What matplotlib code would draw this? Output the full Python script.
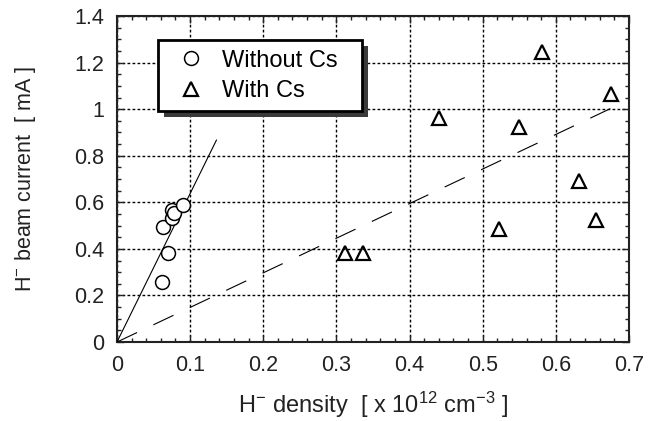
import matplotlib
matplotlib.use("Agg")
import matplotlib.pyplot as plt
from matplotlib.patches import Rectangle
from matplotlib.ticker import MultipleLocator

plt.rcParams["font.family"] = ["Liberation Sans", "DejaVu Sans"]
plt.rcParams["mathtext.fontset"] = "custom"
plt.rcParams["mathtext.rm"] = "Liberation Sans"
plt.rcParams["mathtext.it"] = "Liberation Sans"
plt.rcParams["mathtext.bf"] = "Liberation Sans:bold"
plt.rcParams["lines.scale_dashes"] = False

# H- density [x 1e12 cm^-3] vs H- beam current [mA]
without_cs_x = [0.061, 0.070, 0.0634, 0.0748, 0.0748, 0.078, 0.0907]
without_cs_y = [0.259, 0.381, 0.492, 0.531, 0.567, 0.556, 0.588]
with_cs_x = [0.312, 0.336, 0.441, 0.523, 0.550, 0.581, 0.632, 0.655, 0.676]
with_cs_y = [0.382, 0.382, 0.960, 0.487, 0.922, 1.246, 0.691, 0.524, 1.063]

# guide lines through the origin
fit_without_x = [0.0, 0.136]
fit_without_y = [0.0, 0.867]
fit_with_x = [0.0, 0.692]
fit_with_y = [0.0, 1.028]

x_ticks = [0, 0.1, 0.2, 0.3, 0.4, 0.5, 0.6, 0.7]
x_tick_labels = ["0", "0.1", "0.2", "0.3", "0.4", "0.5", "0.6", "0.7"]
y_ticks = [0, 0.2, 0.4, 0.6, 0.8, 1.0, 1.2, 1.4]
y_tick_labels = ["0", "0.2", "0.4", "0.6", "0.8", "1", "1.2", "1.4"]

fig = plt.figure(figsize=(6.62, 4.21), dpi=100)
ax = fig.add_axes([0.1767, 0.1876, 0.7733, 0.7744])

ax.plot(fit_without_x, fit_without_y, color="black", linewidth=0.8, zorder=3)
ax.plot(fit_with_x, fit_with_y, color="black", linewidth=0.8, dashes=(16, 13), zorder=3)
ax.plot(without_cs_x, without_cs_y, linestyle="none", marker="o", markersize=10,
        markerfacecolor="white", markeredgecolor="black", markeredgewidth=1.1,
        label="Without Cs", zorder=4)
ax.plot(with_cs_x, with_cs_y, linestyle="none", marker="^", markersize=10,
        markerfacecolor="none", markeredgecolor="black", markeredgewidth=1.6,
        label="With Cs", zorder=4)

ax.set_xlim(0, 0.7)
ax.set_ylim(0, 1.4)
ax.set_xticks(x_ticks, x_tick_labels)
ax.set_yticks(y_ticks, y_tick_labels)
ax.xaxis.set_minor_locator(MultipleLocator(0.02))
ax.yaxis.set_minor_locator(MultipleLocator(0.05))
ax.tick_params(which="both", direction="in", top=True, right=True, colors="#222",
               labelsize=15.5, width=1.0)
ax.tick_params(which="major", length=5)
ax.tick_params(which="minor", length=3)
ax.tick_params(axis="x", pad=9)
ax.tick_params(axis="y", pad=9)
for spine in ax.spines.values():
    spine.set_linewidth(1.5)
    spine.set_color("#222")
ax.grid(True, which="major", color="black", linewidth=1.0, dashes=(2, 1.6))

ax.set_xlabel(r"H$^{-}$ density  [ x 10$^{12}$ cm$^{-3}$ ]", fontsize=17, color="#222", labelpad=10)
ax.set_ylabel(r"H$^{-}$ beam current  [ mA ]", fontsize=15.5, color="#222", labelpad=26)

leg = ax.legend(loc="upper left", bbox_to_anchor=(0.080, 0.826, 0.398, 0.1), mode="expand",
                fontsize=17, frameon=True, fancybox=False, edgecolor="black", framealpha=1,
                borderpad=0.4, handlelength=2.0, handletextpad=0.3, labelspacing=0.35,
                borderaxespad=0)
leg.get_frame().set_linewidth(2.0)
leg.set_zorder(6)

# drop shadow under the legend box
fig.canvas.draw()
bb = leg.get_window_extent().transformed(ax.transAxes.inverted())
dx = 6 / ax.bbox.width
dy = 6 / ax.bbox.height
ax.add_patch(Rectangle((bb.x0 + dx, bb.y0 - dy), bb.width, bb.height, transform=ax.transAxes,
                       facecolor="#3a3a3a", edgecolor="none", zorder=5))

fig.savefig("out.png", dpi=100, facecolor="white")
